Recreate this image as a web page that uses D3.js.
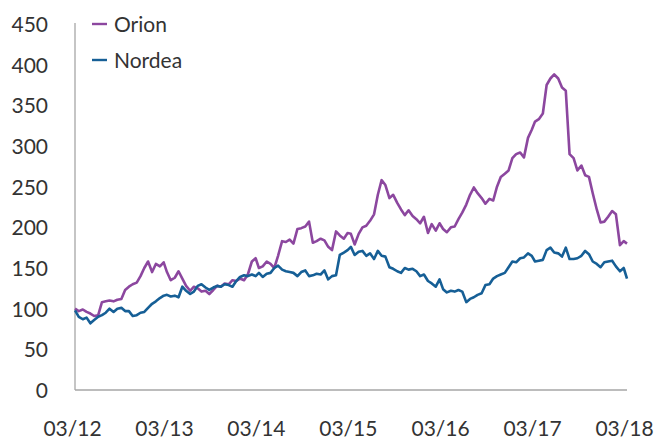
<!DOCTYPE html>
<html>
<head>
<meta charset="utf-8">
<script src="https://cdn.jsdelivr.net/npm/d3@7"></script>
<style>
  html, body { margin: 0; padding: 0; background: #fff; }
  svg { display: block; font-family: Lato, "Open Sans", sans-serif; }
</style>
</head>
<body>
<svg id="chart" width="658" height="439"></svg>
<script>
// ---- Data (semi-monthly samples, March 2012 – March 2018) ----
const startDate = "2012-03-01";
const seriesNames = ["Orion", "Nordea"];
const orion = [
  100, 97, 99, 96, 94, 91, 92, 108, 109, 110, 109, 111, 112, 123, 127, 130, 132, 140, 150, 158,
  145, 155, 152, 157, 145, 135, 138, 146, 137, 128, 122, 127, 125, 121, 122, 118, 123, 128, 127, 131,
  130, 135, 134, 137, 135, 142, 158, 162, 150, 152, 158, 155, 150, 165, 183, 182, 185, 180, 198, 199,
  201, 207, 181, 183, 186, 184, 176, 172, 195, 190, 186, 193, 192, 179, 192, 200, 202, 208, 216, 240,
  258, 252, 236, 240, 230, 222, 215, 221, 214, 210, 205, 213, 193, 204, 196, 205, 198, 194, 200, 201,
  210, 218, 228, 240, 249, 242, 236, 229, 235, 233, 250, 262, 266, 270, 285, 290, 292, 286, 310, 320,
  330, 333, 340, 375, 383, 388, 383, 372, 368, 290, 285, 270, 276, 264, 262, 242, 222, 206, 207, 213,
  220, 216, 178, 183, 180
];
const nordea = [
  98, 90, 87, 89, 82, 86, 90, 92, 95, 100, 96, 100, 101, 97, 97, 91, 92, 95, 96, 101,
  106, 109, 113, 116, 117, 115, 116, 114, 127, 122, 118, 121, 128, 130, 126, 123, 126, 128, 127, 130,
  129, 127, 134, 139, 141, 140, 142, 140, 144, 139, 143, 144, 150, 153, 148, 146, 145, 144, 140, 145,
  147, 140, 141, 143, 142, 147, 136, 140, 141, 166, 169, 172, 176, 166, 170, 171, 165, 168, 161, 171,
  165, 164, 151, 149, 146, 144, 150, 148, 149, 146, 140, 142, 134, 131, 127, 136, 124, 120, 122, 121,
  123, 121, 108, 112, 114, 117, 119, 129, 130, 137, 140, 142, 144, 151, 158, 157, 162, 163, 168, 165,
  158, 159, 160, 172, 175, 169, 168, 164, 175, 161, 161, 162, 165, 171, 167, 158, 155, 151, 157, 158,
  159, 152, 146, 150, 137
];
const yTicks = [0, 50, 100, 150, 200, 250, 300, 350, 400, 450];
const xTickLabels = ["03/12", "03/13", "03/14", "03/15", "03/16", "03/17", "03/18"];
const colors = { Orion: "#8c479f", Nordea: "#165f96" };

// dates: half-month steps from start
const parse = d3.timeParse("%Y-%m-%d");
const t0 = parse(startDate);
const dates = orion.map((_, i) => d3.timeDay.offset(d3.timeMonth.offset(t0, Math.floor(i / 2)), (i % 2) * 15));

// ---- Layout ----
const svg = d3.select("#chart");
const mLeft = 75, mRight = 627, mTop = 24, mBottom = 390;

const x = d3.scaleTime()
  .domain([t0, d3.timeMonth.offset(t0, 72)])
  .range([mLeft, mRight]);
const y = d3.scaleLinear().domain([0, 450]).range([mBottom, mTop]);

// axes lines
svg.append("line").attr("x1", mLeft).attr("x2", mLeft).attr("y1", mTop - 1).attr("y2", mBottom)
  .attr("stroke", "#a6a6a6").attr("stroke-width", 1.3);
svg.append("line").attr("x1", mLeft).attr("x2", mRight).attr("y1", mBottom).attr("y2", mBottom)
  .attr("stroke", "#a6a6a6").attr("stroke-width", 1.3);

// y tick labels
const yAxis = d3.axisLeft(y).tickValues(yTicks).tickSize(0).tickPadding(0);
const gy = svg.append("g").attr("transform", `translate(${mLeft - 27},0)`).call(yAxis);
gy.select(".domain").remove();
gy.selectAll("text").attr("font-size", 21).attr("fill", "#333").attr("font-family", "Lato, sans-serif")
  .attr("dy", "0.36em");

// x tick labels
const xTickDates = xTickLabels.map((_, i) => d3.timeYear.offset(t0, i));
const xAxis = d3.axisBottom(x).tickValues(xTickDates).tickSize(0).tickPadding(0)
  .tickFormat((d, i) => xTickLabels[i]);
const gx = svg.append("g").attr("transform", `translate(-3,${mBottom})`).call(xAxis);
gx.select(".domain").remove();
gx.selectAll("text").attr("font-size", 21).attr("fill", "#333").attr("font-family", "Lato, sans-serif")
  .attr("dy", null).attr("y", 46);

// lines
const line = d3.line().x((d, i) => x(dates[i])).y(d => y(d));
[["Orion", orion], ["Nordea", nordea]].forEach(([name, vals]) => {
  svg.append("path").datum(vals)
    .attr("fill", "none")
    .attr("stroke", colors[name])
    .attr("stroke-width", 2.6)
    .attr("stroke-linejoin", "round")
    .attr("d", line);
});

// legend
seriesNames.forEach((name, i) => {
  const ly = 24 + i * 36;
  svg.append("line").attr("x1", 92).attr("x2", 107).attr("y1", ly).attr("y2", ly)
    .attr("stroke", colors[name]).attr("stroke-width", 2.4);
  svg.append("text").attr("x", 114).attr("y", ly).attr("dy", "0.36em")
    .attr("font-size", 21).attr("fill", "#333").text(name);
});
</script>
</body>
</html>
